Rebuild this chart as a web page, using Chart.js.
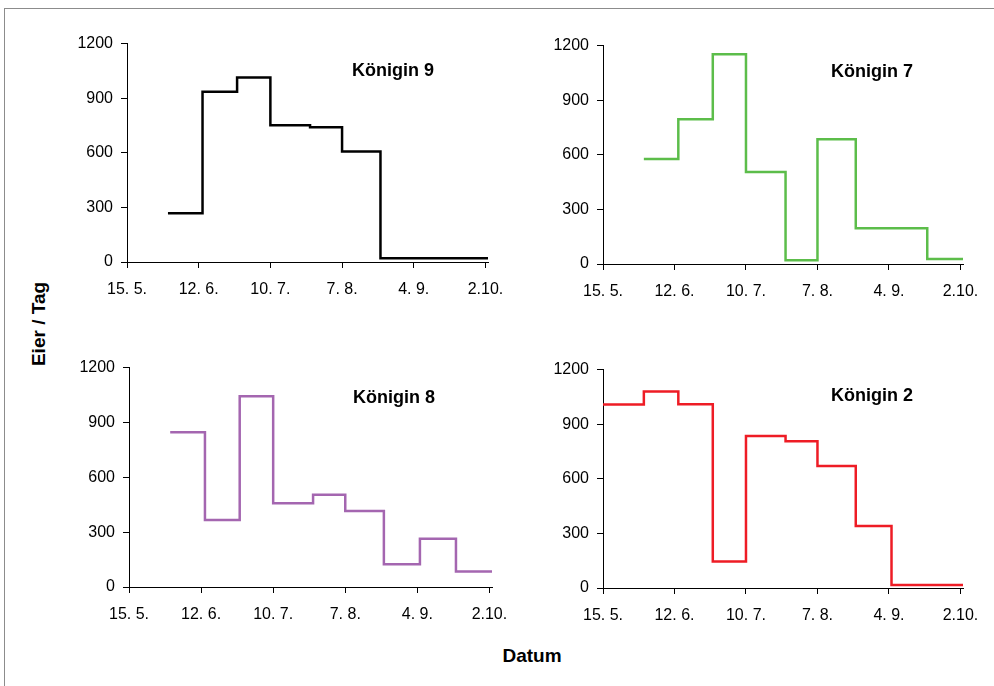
<!DOCTYPE html>
<html>
<head>
<meta charset="utf-8">
<script src="https://cdn.jsdelivr.net/npm/chart.js@4/dist/chart.umd.min.js"></script>
<style>
  body { margin: 0; background: #fff; width: 994px; height: 686px; overflow: hidden; position: relative; font-family: "Liberation Sans", Arial, sans-serif; }
  .frame { position: absolute; left: 4px; top: 8px; width: 1100px; height: 800px; border: 1px solid #8c8c8c; }
  canvas { position: absolute; }
  .lbl { position: absolute; font-weight: bold; font-size: 18px; line-height: 18px; color: #000; white-space: nowrap; }
</style>
</head>
<body>
<div class="frame"></div>
<div class="lbl" style="left:39px; top:324px; font-size:19px; transform: translate(-50%,-50%) rotate(-90deg);">Eier / Tag</div>
<div class="lbl" style="left:532px; top:656px; font-size:19px; transform: translate(-50%,-50%);">Datum</div>

<script>
// days since 15. 5. where each sampling period starts (last one = end)
const stepDays = [0, 16, 29.5, 43, 56, 71.5, 84, 99, 113, 127, 141];
const tickDays = [0, 28, 56, 84, 112, 140];
const tickLabels = ['15. 5.', '12. 6.', '10. 7.', '7. 8.', '4. 9.', '2.10.'];

// eggs per day in each period (null = no value)
const koenigin9 = [null, 268, 936, 1014, 751, 741, 607, 20, 20, 20];
const koenigin7 = [null, 577, 796, 1153, 505, 20, 686, 197, 197, 27];
const koenigin8 = [null, 847, 366, 1043, 458, 505, 415, 125, 264, 85];
const koenigin2 = [1008, 1079, 1010, 146, 835, 806, 671, 341, 16, 16];

// panel layout: chart area box + title position
const panels = [
  { name: 'Königin 9', values: koenigin9, color: '#000000', area: [127, 41, 488, 262], title: [352, 61] },
  { name: 'Königin 7', values: koenigin7, color: '#5cbd4a', area: [603, 43, 963, 264], title: [831, 62] },
  { name: 'Königin 8', values: koenigin8, color: '#a466b0', area: [129, 365, 492, 587], title: [353, 388] },
  { name: 'Königin 2', values: koenigin2, color: '#ee1c25', area: [603, 367, 963, 588], title: [831, 386] }
];

const yw = 60, padT = 15, padR = 30, xh = 45;

function stepPoints(vals) {
  const pts = [];
  let last = null;
  vals.forEach((v, i) => {
    if (v === null) return;
    pts.push({ x: stepDays[i], y: v });
    last = i;
  });
  pts.push({ x: stepDays[last + 1], y: vals[last] });
  return pts;
}

panels.forEach(p => {
  const [l, t, r, b] = p.area;
  const cv = document.createElement('canvas');
  cv.width = (r - l) + yw + padR;
  cv.height = (b - t) + padT + xh;
  cv.style.left = (l - yw) + 'px';
  cv.style.top = (t - padT) + 'px';
  document.body.appendChild(cv);

  const title = document.createElement('div');
  title.className = 'lbl';
  title.textContent = p.name;
  title.style.left = p.title[0] + 'px';
  title.style.top = p.title[1] + 'px';
  document.body.appendChild(title);

  new Chart(cv.getContext('2d'), {
    type: 'line',
    data: {
      datasets: [{
        data: stepPoints(p.values),
        borderColor: p.color,
        borderWidth: 2.5,
        stepped: 'before',
        pointRadius: 0,
        borderJoinStyle: 'miter',
        fill: false
      }]
    },
    options: {
      responsive: false,
      animation: false,
      devicePixelRatio: 1,
      layout: { padding: { top: padT, right: padR, left: 0, bottom: 0 } },
      plugins: { legend: { display: false }, tooltip: { enabled: false } },
      scales: {
        x: {
          type: 'linear',
          min: 0,
          max: stepDays[stepDays.length - 1],
          afterFit: s => { s.height = xh; },
          afterBuildTicks: s => { s.ticks = tickDays.map(v => ({ value: v })); },
          grid: { drawOnChartArea: false, color: '#000', tickLength: 6, tickWidth: 1 },
          border: { color: '#000', width: 1 },
          ticks: {
            color: '#000',
            font: { family: 'Liberation Sans', size: 16 },
            padding: 12,
            maxRotation: 0,
            autoSkip: false,
            callback: (v) => tickLabels[tickDays.indexOf(v)]
          }
        },
        y: {
          min: 0,
          max: 1200,
          afterFit: s => { s.width = yw; },
          grid: { drawOnChartArea: false, color: '#000', tickLength: 6, tickWidth: 1 },
          border: { color: '#000', width: 1 },
          ticks: {
            stepSize: 300,
            color: '#000',
            font: { family: 'Liberation Sans', size: 16 },
            padding: 8,
            callback: (v) => String(v)
          }
        }
      }
    }
  });
});
</script>
</body>
</html>
